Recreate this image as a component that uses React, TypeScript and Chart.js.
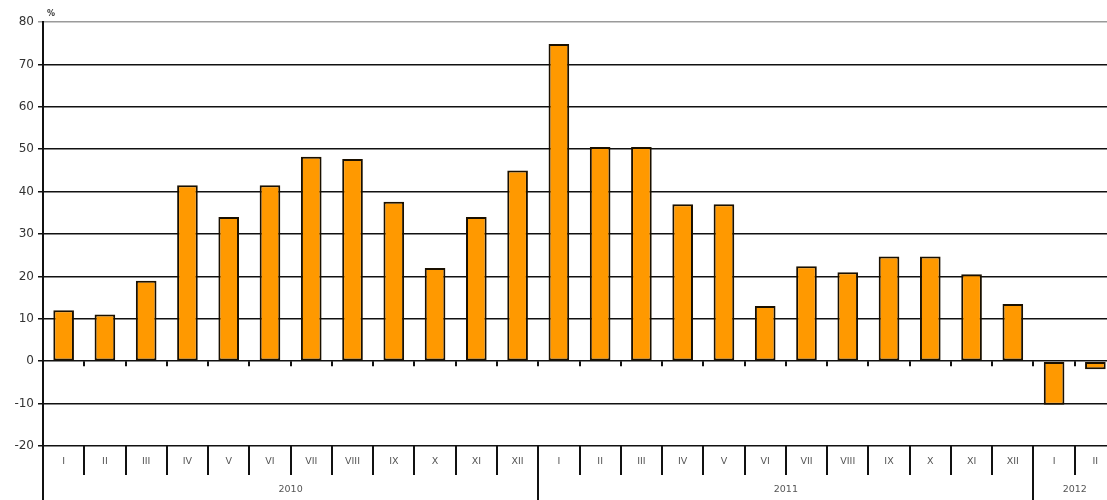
import React, { useEffect, useRef } from "react";
import { Chart, registerables } from "chart.js";

Chart.register(...registerables);

const months = [
  "I", "II", "III", "IV", "V", "VI", "VII", "VIII", "IX", "X", "XI", "XII",
  "I", "II", "III", "IV", "V", "VI", "VII", "VIII", "IX", "X", "XI", "XII",
  "I", "II",
];
const years = ["2010", "2011", "2012"];
const yearSpans = [12, 12, 2];
const values = [
  12, 11, 19, 41.5, 34, 41.5, 48.2, 47.7, 37.6, 22, 34, 45,
  74.8, 50.5, 50.5, 37, 37, 13, 22.4, 21, 24.7, 24.7, 20.5, 13.5,
  -10.3, -1.9,
];
const yTicks = [80, 70, 60, 50, 40, 30, 20, 10, 0, -10, -20];

const FONT = "'DejaVu Sans', Verdana, sans-serif";

const multiLevelAxis = {
  id: "multiLevelAxis",
  afterDraw(chart: any) {
    const ctx = chart.ctx;
    const area = chart.chartArea;
    const x = chart.scales.x;
    const y = chart.scales.y;
    const n = months.length;
    const H = chart.height;
    const bounds: number[] = [];
    for (let i = 0; i <= n; i++) {
      if (i === 0) bounds.push(area.left);
      else if (i === n) bounds.push(area.right);
      else bounds.push((x.getPixelForValue(i - 1) + x.getPixelForValue(i)) / 2);
    }
    const yearBounds = new Set<number>();
    let acc = 0;
    yearSpans.forEach((s) => {
      acc += s;
      yearBounds.add(acc);
    });
    const y0 = y.getPixelForValue(0);
    ctx.save();
    ctx.strokeStyle = "#111";
    ctx.lineWidth = 2;
    ctx.beginPath();
    ctx.moveTo(area.left, area.bottom);
    ctx.lineTo(area.left, H);
    ctx.stroke();
    for (let i = 1; i < n; i++) {
      const bx = Math.round(bounds[i]);
      ctx.beginPath();
      ctx.moveTo(bx, area.bottom);
      ctx.lineTo(bx, yearBounds.has(i) ? H : area.bottom + 29);
      ctx.stroke();
      ctx.beginPath();
      ctx.moveTo(bx, y0);
      ctx.lineTo(bx, y0 + 5);
      ctx.stroke();
    }
    ctx.fillStyle = "#555";
    ctx.font = `9.5px ${FONT}`;
    ctx.textAlign = "center";
    ctx.textBaseline = "middle";
    for (let i = 0; i < n; i++) {
      ctx.fillText(months[i], x.getPixelForValue(i), area.bottom + 16);
    }
    let start = 0;
    yearSpans.forEach((s, k) => {
      const cx = (bounds[start] + bounds[start + s]) / 2;
      ctx.fillText(years[k], cx, area.bottom + 44);
      start += s;
    });
    ctx.fillStyle = "#333";
    ctx.font = `bold 8px ${FONT}`;
    ctx.textAlign = "left";
    ctx.fillText("%", area.left + 4, area.top - 8);
    ctx.restore();
  },
};

export default function App() {
  const ref = useRef<HTMLCanvasElement>(null);
  useEffect(() => {
    document.body.style.margin = "0";
    const chart = new Chart(ref.current!, {
      type: "bar",
      data: {
        labels: months,
        datasets: [
          {
            data: values,
            backgroundColor: "#FF9900",
            borderColor: "#1a1000",
            borderWidth: 2,
            borderSkipped: false,
            barPercentage: 0.5,
            categoryPercentage: 1,
          },
        ],
      },
      options: {
        animation: false,
        responsive: true,
        maintainAspectRatio: false,
        layout: { padding: { top: 22, bottom: 54, left: 0, right: 0 } },
        plugins: { legend: { display: false }, tooltip: { enabled: false }, title: { display: false } },
        scales: {
          x: {
            display: false,
            offset: true,
          },
          y: {
            min: -20,
            max: 80,
            afterFit: (scale: any) => {
              scale.width = 43;
            },
            afterBuildTicks: (scale: any) => {
              scale.ticks = yTicks.map((v) => ({ value: v }));
            },
            border: { display: true, color: "#111", width: 2 },
            grid: {
              color: (c: any) => (c.tick && c.tick.value === 80 ? "#9a9a9a" : "#111"),
              lineWidth: 1.5,
              tickLength: 5,
            },
            ticks: {
              padding: 4,
              color: "#333",
              font: { family: FONT, size: 12 },
            },
          },
        },
      },
      plugins: [multiLevelAxis],
    });
    return () => chart.destroy();
  }, []);
  return (
    <div style={{ width: 1107, height: 500, overflow: "hidden", position: "relative" }}>
      <div style={{ width: 1116, height: 500, position: "relative" }}>
        <canvas ref={ref} />
      </div>
    </div>
  );
}
